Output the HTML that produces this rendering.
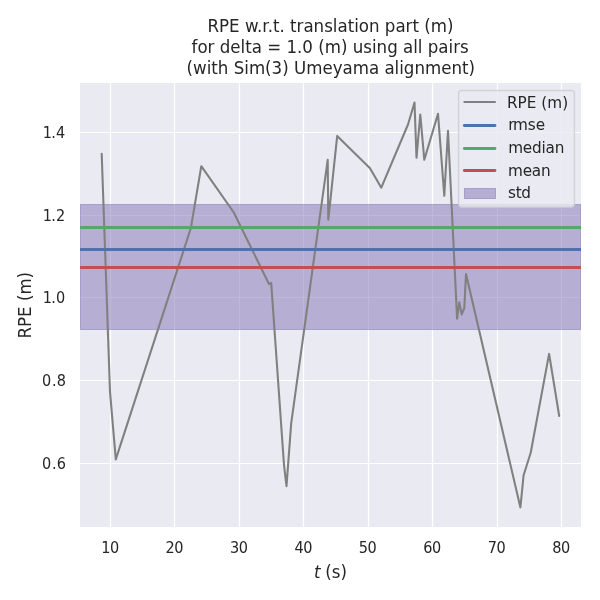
<!DOCTYPE html>
<html lang="en"><head><meta charset="utf-8"><title>RPE w.r.t. translation part (m)</title>
<style>
html,body{margin:0;padding:0;background:#fff;}
body{width:600px;height:600px;overflow:hidden;}
svg{display:block;will-change:transform;}
text{font-family:"DejaVu Sans","Liberation Sans",sans-serif;fill:#262626;}
.it{font-style:italic;}
</style></head><body>
<svg width="600" height="600" viewBox="0 0 600 600">
<rect x="0" y="0" width="600" height="600" fill="#ffffff"/>
<rect x="80" y="83" width="501" height="444" fill="#eaeaf2"/>
<defs><clipPath id="ax"><rect x="80" y="83" width="501" height="444"/></clipPath></defs>
<g stroke="#ffffff" stroke-width="1.2" fill="none" stroke-linecap="butt">
<line x1="110.5" y1="83" x2="110.5" y2="527"/>
<line x1="174.5" y1="83" x2="174.5" y2="527"/>
<line x1="239.5" y1="83" x2="239.5" y2="527"/>
<line x1="303.5" y1="83" x2="303.5" y2="527"/>
<line x1="368.5" y1="83" x2="368.5" y2="527"/>
<line x1="432.5" y1="83" x2="432.5" y2="527"/>
<line x1="497.5" y1="83" x2="497.5" y2="527"/>
<line x1="561.5" y1="83" x2="561.5" y2="527"/>
<line x1="80" y1="463.5" x2="581" y2="463.5"/>
<line x1="80" y1="380.5" x2="581" y2="380.5"/>
<line x1="80" y1="297.5" x2="581" y2="297.5"/>
<line x1="80" y1="215.5" x2="581" y2="215.5"/>
<line x1="80" y1="132.5" x2="581" y2="132.5"/>
</g>
<g clip-path="url(#ax)">
<rect x="80.5" y="204.5" width="500" height="125.00" fill="#8172b3" fill-opacity="0.5" stroke="#8172b3" stroke-opacity="0.5" stroke-width="1"/>
<polyline points="101.7,153.8 110.0,391.7 115.8,459.4 190.8,228.3 201.3,166.2 233.8,212.5 269.0,284.0 271.2,283.0 284.0,465.0 286.5,486.1 291.2,423.3 327.7,159.8 328.3,219.8 337.2,135.9 370.0,168.3 381.3,187.7 408.0,124.5 414.5,102.5 416.5,157.8 420.3,114.5 424.3,159.8 438.0,113.8 444.3,195.8 448.0,130.7 457.1,318.6 459.3,302.4 461.7,314.4 464.3,308.0 466.0,274.1 520.4,507.4 523.6,475.3 530.7,452.7 549.1,353.9 559.2,416.0" fill="none" stroke="#808080" stroke-width="2.08" stroke-linejoin="round" stroke-linecap="round"/>
<line x1="80" y1="249.5" x2="581" y2="249.5" stroke="#4c72b0" stroke-width="3.0"/>
<line x1="80" y1="227.5" x2="581" y2="227.5" stroke="#55a868" stroke-width="3.0"/>
<line x1="80" y1="267.5" x2="581" y2="267.5" stroke="#c44e52" stroke-width="3.0"/>
</g>
<text transform="translate(330.50,31.90) scale(1,1.08)" font-size="16.67" text-anchor="middle">RPE w.r.t. translation part (m)</text>
<text transform="translate(330.10,52.90) scale(1,1.08)" font-size="16.67" text-anchor="middle">for delta = 1.0 (m) using all pairs</text>
<text transform="translate(330.80,73.50) scale(1,1.08)" font-size="16.67" text-anchor="middle">(with Sim(3) Umeyama alignment)</text>
<text transform="translate(65.97,469.00) scale(1,1.09)" font-size="14.5" text-anchor="end" letter-spacing="0.05">0<tspan dx="0.67">.</tspan><tspan dx="0.1">6</tspan></text>
<text transform="translate(65.97,386.00) scale(1,1.09)" font-size="14.5" text-anchor="end" letter-spacing="0.05">0<tspan dx="0.67">.</tspan><tspan dx="0.1">8</tspan></text>
<text transform="translate(65.00,303.00) scale(1,1.09)" font-size="14.5" text-anchor="end" letter-spacing="0.05"><tspan dx="0.35">1</tspan><tspan dx="-0.65">.</tspan><tspan dx="0.1">0</tspan></text>
<text transform="translate(65.00,221.00) scale(1,1.09)" font-size="14.5" text-anchor="end" letter-spacing="0.05"><tspan dx="0.35">1</tspan><tspan dx="-0.65">.</tspan><tspan dx="0.1">2</tspan></text>
<text transform="translate(65.00,138.00) scale(1,1.09)" font-size="14.5" text-anchor="end" letter-spacing="0.05"><tspan dx="0.35">1</tspan><tspan dx="-0.65">.</tspan><tspan dx="0.1">4</tspan></text>
<text transform="translate(109.90,552.70) scale(1,1.09)" font-size="14.5" text-anchor="middle" letter-spacing="-0.45">10</text>
<text transform="translate(174.33,552.70) scale(1,1.09)" font-size="14.5" text-anchor="middle" letter-spacing="-0.45">20</text>
<text transform="translate(238.76,552.70) scale(1,1.09)" font-size="14.5" text-anchor="middle" letter-spacing="-0.45">30</text>
<text transform="translate(303.19,552.70) scale(1,1.09)" font-size="14.5" text-anchor="middle" letter-spacing="-0.45">40</text>
<text transform="translate(367.62,552.70) scale(1,1.09)" font-size="14.5" text-anchor="middle" letter-spacing="-0.45">50</text>
<text transform="translate(432.05,552.70) scale(1,1.09)" font-size="14.5" text-anchor="middle" letter-spacing="-0.45">60</text>
<text transform="translate(496.48,552.70) scale(1,1.09)" font-size="14.5" text-anchor="middle" letter-spacing="-0.45">70</text>
<text transform="translate(560.91,552.70) scale(1,1.09)" font-size="14.5" text-anchor="middle" letter-spacing="-0.45">80</text>
<text transform="translate(330.50,577.50) scale(1,1.08)" font-size="16.67" text-anchor="middle"><tspan class="it">t</tspan><tspan dx="-0.6"> (s)</tspan></text>
<text transform="translate(31.20,305.20) rotate(-90) scale(1,1.08)" font-size="16.67" text-anchor="middle">RPE (m)</text>
<rect x="458.6" y="90.5" width="115.80" height="116.70" rx="3.1" ry="3.1" fill="#eaeaf2" fill-opacity="0.8" stroke="#cccccc" stroke-opacity="0.8" stroke-width="1.39"/>
<line x1="464.3" y1="102.0" x2="495.0" y2="102.0" stroke="#808080" stroke-width="2.08" stroke-linecap="round"/>
<line x1="464.3" y1="125.5" x2="495.0" y2="125.5" stroke="#4c72b0" stroke-width="2.78" stroke-linecap="round"/>
<line x1="464.3" y1="148.5" x2="495.0" y2="148.5" stroke="#55a868" stroke-width="2.78" stroke-linecap="round"/>
<line x1="464.3" y1="170.5" x2="495.0" y2="170.5" stroke="#c44e52" stroke-width="2.78" stroke-linecap="round"/>
<rect x="464.5" y="188.5" width="31" height="10" fill="#8172b3" fill-opacity="0.5" stroke="#8172b3" stroke-opacity="0.5" stroke-width="1"/>
<text transform="translate(507.00,107.80) scale(1,1.06)" font-size="15.28" text-anchor="start">RPE (m)</text>
<text transform="translate(507.00,129.80) scale(1,1.06)" font-size="15.28" text-anchor="start"><tspan dx="1.3">r</tspan><tspan dx="-1.7">mse</tspan></text>
<text transform="translate(508.20,152.80) scale(1,1.06)" font-size="15.28" text-anchor="start" letter-spacing="-0.2">median</text>
<text transform="translate(508.10,175.80) scale(1,1.06)" font-size="15.28" text-anchor="start" letter-spacing="-0.27">mean</text>
<text transform="translate(508.00,197.80) scale(1,1.06)" font-size="15.28" text-anchor="start" letter-spacing="-0.33">std</text>
</svg></body></html>
